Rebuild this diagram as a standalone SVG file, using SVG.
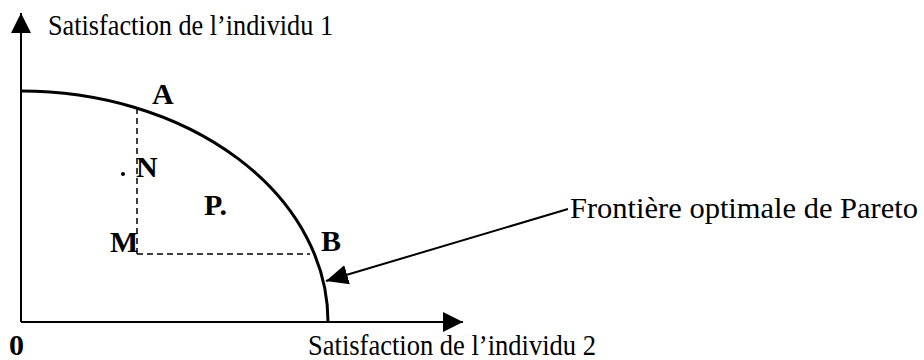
<svg xmlns="http://www.w3.org/2000/svg" width="924" height="360" viewBox="0 0 924 360">
<style>
.t{font-family:"Liberation Serif","Times New Roman",serif;font-size:29px;fill:#000}
.b{font-family:"Liberation Serif","Times New Roman",serif;font-size:30px;font-weight:bold;fill:#000}
.ax{stroke:#000;stroke-width:2;fill:none}
.dash{stroke:#000;stroke-width:1.5;stroke-dasharray:6 4;fill:none}
</style>
<defs>
<marker id="ah" markerUnits="userSpaceOnUse" markerWidth="22" markerHeight="20" refX="20" refY="10" orient="auto">
<path d="M0,0 L20,10 L0,20 Z" fill="#000"/>
</marker>
<marker id="ah2" markerUnits="userSpaceOnUse" markerWidth="24" markerHeight="20" refX="22" refY="10" orient="auto">
<path d="M0,0 L22,10 L0,20 Z" fill="#000"/>
</marker>
</defs>
<rect width="924" height="360" fill="#fff"/>
<g id="connectors">
<line class="ax" x1="21" y1="322" x2="21" y2="13" marker-end="url(#ah)"/>
<line class="ax" x1="21" y1="322" x2="463" y2="322" marker-end="url(#ah)"/>
<line class="dash" x1="137" y1="108" x2="137" y2="254"/>
<line class="dash" x1="137" y1="254" x2="310" y2="254"/>
<line class="ax" x1="568" y1="209" x2="326" y2="281" marker-end="url(#ah2)"/>
</g>
<g id="frontier">
<path d="M21,91 A307,231 0 0 1 328,322" stroke="#000" stroke-width="3" fill="none"/>
</g>
<g id="labels">
<text class="t" x="48" y="35" textLength="285" lengthAdjust="spacingAndGlyphs">Satisfaction de l’individu 1</text>
<text class="t" x="308" y="355" textLength="288" lengthAdjust="spacingAndGlyphs">Satisfaction de l’individu 2</text>
<text class="t" x="570" y="218" textLength="348" lengthAdjust="spacingAndGlyphs">Frontière optimale de Pareto</text>
<text class="b" x="152" y="104">A</text>
<text class="b" x="136" y="177">N</text>
<circle cx="123" cy="174" r="2"/>
<text class="b" x="110" y="252">M</text>
<text class="b" x="204" y="215">P.</text>
<text class="b" x="321" y="251">B</text>
<text class="b" x="9" y="355">0</text>
</g>
</svg>
